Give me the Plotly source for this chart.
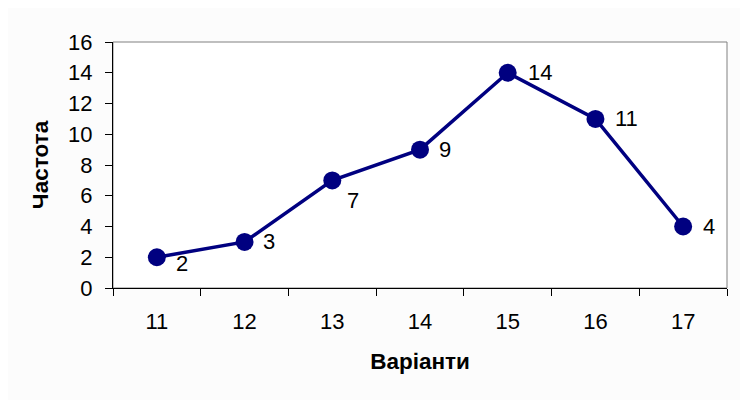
import plotly.graph_objects as go

categories = ["11", "12", "13", "14", "15", "16", "17"]
frequency = [2, 3, 7, 9, 14, 11, 4]
y_ticks = [0, 2, 4, 6, 8, 10, 12, 14, 16]

# label offsets (pixels) relative to each point: style only
label_dx = [17, 16, 13, 17, 18, 18, 18]
label_dy = [-6, 0, -20, 0, 0, 0, 0]

navy = "#000080"
font = "Liberation Sans, Arial, sans-serif"

fig = go.Figure()
fig.add_trace(go.Scatter(
    x=categories, y=frequency, mode="lines+markers",
    line=dict(color=navy, width=3.5),
    marker=dict(color=navy, size=18),
    cliponaxis=False,
    showlegend=False,
))

for i, (v, dx, dy) in enumerate(zip(frequency, label_dx, label_dy)):
    fig.add_annotation(x=i, y=v, text=str(v), showarrow=False,
                       xanchor="left", yanchor="middle", xshift=dx, yshift=dy,
                       font=dict(family=font, size=22, color="black"))

fig.add_shape(type="rect", xref="paper", yref="paper", x0=0, x1=1, y0=0, y1=1,
              line=dict(color="#808080", width=1), layer="below")

fig.update_layout(
    width=732, height=392,
    margin=dict(l=105, r=13, t=34, b=112),
    paper_bgcolor="#fcfcfc", plot_bgcolor="white",
    font=dict(family=font, size=22, color="black"),
    xaxis=dict(
        type="category", tickson="boundaries", automargin=False,
        range=[-0.5, 6.5], tickangle=0,
        showline=True, linecolor="black", linewidth=1,
        ticks="outside", ticklen=7, tickcolor="black",
        showgrid=False, zeroline=False,
        ticklabelstandoff=14,
        title=dict(text="<b>Варіанти</b>", font=dict(size=22.5), standoff=19),
    ),
    yaxis=dict(
        range=[0, 16], tickvals=y_ticks, automargin=False,
        showline=True, linecolor="black", linewidth=1,
        ticks="outside", ticklen=7, tickcolor="black",
        showgrid=False, zeroline=False,
        ticklabelstandoff=8,
        title=dict(text="<b>Частота</b>", font=dict(size=22.5), standoff=13),
    ),
)

fig.write_html("out.html")
